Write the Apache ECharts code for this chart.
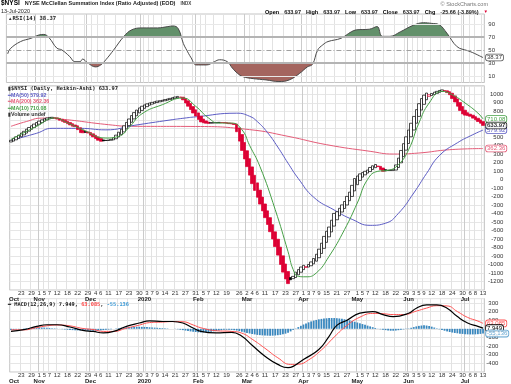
<!DOCTYPE html>
<html><head><meta charset="utf-8">
<script src="https://cdn.jsdelivr.net/npm/echarts@6/dist/echarts.min.js"></script>
<style>html,body{margin:0;padding:0;background:#fff}#c{width:511px;height:384px}</style>
</head><body><div id="c"></div>
<script>
// ---------- categories ----------
const startDate = '2019-10-17', endDate = '2020-07-13';
const holidays = ['2019-11-28','2019-12-25','2020-01-01','2020-01-20','2020-02-17','2020-04-10','2020-05-25','2020-07-03'];
function buildDates(s, e) {
  const out = []; const d = new Date(s + 'T00:00:00Z'); const end = new Date(e + 'T00:00:00Z');
  while (d <= end) {
    const wd = d.getUTCDay(); const iso = d.toISOString().slice(0, 10);
    if (wd !== 0 && wd !== 6 && !holidays.includes(iso)) out.push(iso);
    d.setUTCDate(d.getUTCDate() + 1);
  }
  return out;
}
const dates = buildDates(startDate, endDate);

const tickDates = ['2019-10-23','2019-10-29','2019-11-01','2019-11-05','2019-11-07','2019-11-12','2019-11-18','2019-11-22','2019-11-29',
 '2019-12-04','2019-12-06','2019-12-11','2019-12-17','2019-12-23','2019-12-30','2020-01-03','2020-01-07','2020-01-09','2020-01-14',
 '2020-01-21','2020-01-27','2020-01-31','2020-02-05','2020-02-07','2020-02-12','2020-02-19','2020-02-26','2020-03-02','2020-03-04',
 '2020-03-06','2020-03-11','2020-03-17','2020-03-23','2020-03-27','2020-04-01','2020-04-03','2020-04-07','2020-04-09','2020-04-15',
 '2020-04-21','2020-04-27','2020-05-01','2020-05-05','2020-05-07','2020-05-12','2020-05-18','2020-05-22','2020-05-29','2020-06-03',
 '2020-06-05','2020-06-09','2020-06-12','2020-06-18','2020-06-24','2020-06-30','2020-07-06','2020-07-08','2020-07-13'];
const monthDates = ['2019-10-17','2019-11-01','2019-12-02','2020-01-02','2020-02-03','2020-03-02','2020-04-01','2020-05-01','2020-06-01','2020-07-01'];
const monthNames = ['Oct','Nov','Dec','2020','Feb','Mar','Apr','May','Jun','Jul'];

// ---------- price (daily close) ----------
const closes = [
 460,480,500,520,545,565,590,610,630,650,668,685,700,712,722,728,730,
 722,710,695,682,670,655,640,625,620,585,550,
 548,552,545,
 520,500,480,460,448,
 452,458,462,470,
 490,520,555,590,630,670,710,750,785,815,840,860,875,888,898,
 905,912,920,925,930,938,945,952,960,968,975,
 965,935,898,860,820,780,745,705,675,
 665,660,658,662,665,668,670,668,665,660,655,652,645,
 560,450,340,240,150,50,-50,-130,-210,-290,-370,-450,-530,-615,-700,-790,-890,-1000,-1090,-1170,-1225,
 -1180,-1140,-1090,-1060,-1030,-1010,-1025,-1000,
 -970,-930,-880,-820,-750,-670,-610,-560,-480,-400,-380,-340,-300,-260,-200,-150,-70,10,40,65,80,95,110,
 140,160,175,150,115,95,100,105,108,112,
 170,250,340,420,500,580,660,740,820,890,950,990,1015,
 995,1010,1025,1035,1045,1052,
 1040,1020,995,950,910,860,810,770,755,750,742,720,700,680,660,633.97
];
const firstHaOpen = 440;

// moving averages, read at points [dayIndex, value]
const ma10 = [[0,470],[10,624],[17,722],[22,665],[28,584],[37,486],[42,506],[46,610],[51,770],[59,878],[67,956],[72,859],[77,722],
 [81,662],[86,662],[90,584],[93,400],[97,154],[103,-356],[108,-850],[110,-1060],[112,-1140],[115,-1145],[119,-1100],[124,-904],
 [130,-591],[135,-277],[139,0],[143,95],[147,107],[151,173],[155,349],[159,662],[163,898],[168,1035],[172,995],[177,898],[182,780],[184,710.08]];
const ma50 = [[0,460],[10,542],[16,600],[27,600],[37,582],[48,635],[62,698],[67,718],[72,735],[88,778],[93,742],[96,680],[100,550],
 [104,380],[108,190],[112,10],[118,-210],[126,-360],[133,-470],[140,-540],[146,-515],[151,-400],[157,-160],[162,70],[167,280],
 [174,430],[180,525],[184,579.92]];
const ma200 = [[0,624],[6,680],[12,720],[19,710],[38,643],[47,624],[72,622],[93,585],[108,506],[123,408],[140,330],[149,298],
 [159,310],[171,349],[184,362.36]];

// RSI(14)
const rsi = [[0,44],[1,52],[5,63],[9,68],[12,73],[14,74],[16,69],[19,53],[21,50],[24,40],[26,32],[28,32],[29,36],[31,30],[34,24],
 [36,27],[38,35],[41,50],[45,71],[48,81],[52,84],[58,84],[62,86],[64,87],[66,83],[68,60],[69,52],[71,38],[73,27],[77,27],[80,32],
 [82,35],[85,32],[87,22],[89,14],[91,9],[95,6],[100,4],[105,1.5],[109,4],[113,14],[116,24],[118,28],[120,50],[122,58],[124,63],
 [129,68],[133,78],[135,81],[140,82],[143,86],[145,71],[148,71],[152,78],[157,88],[161,92],[164,91],[167,89],[170,76],[174,55],
 [178,49],[180,46],[184,38.37]];

// MACD(12,26,9)
const macdLine = [[0,-30],[5,-10],[10,28],[14,47],[18,47],[23,21],[28,-18],[32,-30],[36,-48],[40,-30],[45,28],[50,67],[54,93],
 [59,85],[63,85],[67,67],[71,9],[74,-30],[80,-48],[86,-41],[90,-87],[94,-190],[99,-317],[104,-412],[108,-450],[110,-435],
 [114,-355],[120,-240],[124,-87],[127,40],[131,100],[136,181],[141,200],[145,165],[149,142],[155,181],[158,239],[162,277],
 [166,278],[170,239],[174,142],[178,67],[182,28],[184,7.949]];
const signalLine = [[0,-12],[5,-12],[10,14],[14,35],[18,44],[23,34],[28,4],[32,-8],[36,-30],[40,-30],[45,8],[50,43],[54,72],
 [59,78],[63,84],[67,82],[71,45],[74,12],[80,-22],[86,-30],[90,-50],[94,-120],[99,-225],[104,-335],[109,-412],[112,-410],
 [116,-360],[121,-245],[126,-95],[131,40],[136,135],[141,178],[145,175],[149,165],[153,165],[158,205],[162,240],[166,268],
 [170,265],[174,200],[178,132],[182,90],[184,63.085]];
const histogram = [
 -15,-12,-8,-4,0,
 4,8,10,12,14,15,16,15,14,12,10,8,5,2,
 -1,-4,-7,-10,-13,-15,-17,-18,-19,-20,-20,-21,-22,-22,-22,-20,-18,-15,-12,-8,-4,
 0,4,8,12,15,18,20,22,23,24,24,23,22,20,18,16,14,12,10,8,6,4,2,
 0,-2,-5,-10,-15,-20,-25,-30,-34,-37,-40,-42,-42,-40,-37,-33,-29,-25,-20,-16,-12,-10,-10,-12,-16,
 -20,-27,-34,-41,-48,-54,-60,-65,-70,-73,-76,-78,-79,-80,-79,-77,-74,-70,-64,-56,-45,-30,-12,
 4,20,35,50,63,75,86,95,103,110,115,119,122,124,125,125,123,120,116,111,105,98,90,82,73,64,55,46,37,28,19,10,2,
 -5,-10,-15,-20,-22,-22,-20,-16,-11,-6,-1,4,12,20,28,34,38,40,38,33,25,15,5,
 -5,-14,-22,-30,-37,-43,-48,-52,-56,-59,-62,-64,-65,-65,-64,-62,-59,-55.136
];

// ---------- layout ----------
const F = 'Liberation Sans, Arial, sans-serif';
const M = 'DejaVu Sans Mono, monospace';
const gl = 6.4, gr = 26.7;
const rsiTop = 14, rsiBot = 82.5, rsiMax = 105.4;
const rsiY = v => rsiBot - (rsiBot - rsiTop) * v / rsiMax;
const mainTop = 85.8, mainBot = 290;
const macdTop = 298.6, macdBot = 372.7;

const tickSet = new Set(tickDates.map(t => dates.indexOf(t)).filter(i => i >= 0));
const monthIdx = {};
monthDates.forEach((d, k) => { const i = dates.indexOf(d); if (i >= 0) monthIdx[i] = monthNames[k]; });

// Heikin-Ashi candles from closes (index EOD: O=H=L=C)
const candles = [];
let haOpen = firstHaOpen;
for (let j = 0; j < closes.length; j++) {
  if (j > 0) haOpen = (haOpen + closes[j - 1]) / 2;
  const c = closes[j], o = haOpen, prev = j > 0 ? closes[j - 1] : o;
  const up = c >= o, rising = c >= prev;
  const fill = up ? '#ffffff' : (rising ? '#000000' : '#dd0033');
  const border = rising ? '#000000' : '#dd0033';
  candles.push({ value: [o, c, Math.min(o, c), Math.max(o, c)],
    itemStyle: { color: fill, color0: fill, borderColor: border, borderColor0: border } });
}

function dayAxis(gi, showLabels) {
  return { type: 'category', gridIndex: gi, data: dates, boundaryGap: true,
    axisLine: { show: false }, axisTick: { show: false },
    axisLabel: { show: showLabels, interval: i => tickSet.has(i), formatter: v => String(+v.slice(8)),
      fontSize: 6, fontFamily: F, color: '#333', margin: 0.5, lineHeight: 6 },
    splitLine: { show: true, interval: i => tickSet.has(i), lineStyle: { color: '#e2e2e2', width: 1 } } };
}
function monthAxis(gi, showLabels) {
  return { type: 'category', gridIndex: gi, data: dates, boundaryGap: true, position: 'bottom', offset: 5,
    axisLine: { show: false }, axisTick: { show: false },
    axisLabel: { show: showLabels, interval: i => monthIdx[i] !== undefined,
      formatter: (v, i) => (i === 0 ? '{l|' + monthIdx[0] + '}' : '{m|' + (monthIdx[i] || '') + '}'),
      rich: { l: { fontSize: 6, fontWeight: 'bold', fontFamily: F, color: '#222', padding: [0, 0, 0, 6], lineHeight: 6 },
              m: { fontSize: 6, fontWeight: 'bold', fontFamily: F, color: '#222', lineHeight: 6 } },
      margin: 1 },
    splitLine: { show: true, interval: i => monthIdx[i] !== undefined && i > 0, lineStyle: { color: '#cbcbcb', width: 1 } } };
}
function hiddenX(gi) { return { type: 'category', gridIndex: gi, data: dates, boundaryGap: true, show: false }; }
function box(color, text, tc) {
  return { show: true, formatter: text, fontSize: 6, fontFamily: F, color: tc || color, backgroundColor: '#fff',
    borderColor: color, borderWidth: 0.8, borderRadius: 2, padding: [0, 1, 0, 1], distance: 3 };
}

const cBlue = '#5c5cc4', cPink = '#e45c78', cGreen = '#46a046', cRed = '#dd0033';
const LH = 7;

const option = {
  animation: false,
  backgroundColor: '#fff',
  title: [
    { left: 1, top: 0, padding: 0, text: '{b|$NYSI} {n|NYSE McClellan Summation Index (Ratio Adjusted) (EOD)} {s|INDX}',
      textStyle: { lineHeight: LH, rich: { b: { fontSize: 6.5, fontWeight: 'bold', fontFamily: F, color: '#000', lineHeight: LH },
        n: { fontSize: 5.5, fontFamily: F, color: '#222', lineHeight: LH }, s: { fontSize: 4.5, fontFamily: F, color: '#444', lineHeight: LH } } } },
    { left: 1, top: 8, padding: 0, text: '13-Jul-2020', textStyle: { fontSize: 5.5, lineHeight: 6, fontFamily: F, color: '#222', fontWeight: 'normal' } },
    { right: 23, top: 1, padding: 0, text: '© StockCharts.com', textStyle: { fontSize: 5.5, lineHeight: 6, fontFamily: F, color: '#777', fontWeight: 'normal' } },
    { right: 23, top: 9, padding: 0,
      text: '{b|Open} {n|633.97} {b|High} {n|633.97} {b|Low} {n|633.97} {b|Close} {n|633.97} {b|Chg} {n|-25.66 (-3.89%)} {r|▼}',
      textStyle: { lineHeight: 6, rich: { b: { fontSize: 5.5, fontWeight: 'bold', fontFamily: F, color: '#000', lineHeight: 6 },
        n: { fontSize: 5.5, fontFamily: F, color: '#222', lineHeight: 6 }, r: { fontSize: 4.5, fontFamily: F, color: cRed, lineHeight: 6 } } } },
    { left: 8, top: 15.5, padding: 0, text: '{i|▲}{t|RSI(14) 38.37}',
      textStyle: { lineHeight: 6, rich: { i: { fontSize: 4.5, color: '#333', fontFamily: F, lineHeight: 6 }, t: { fontSize: 5.6, fontFamily: M, color: '#222', lineHeight: 6 } } } },
    { left: 8, top: 85.5, padding: 0,
      text: '{k|▮}{t|$NYSI (Daily, Heikin-Ashi) 633.97}\n{b|━}{bt|MA(50) 579.92}\n{p|━}{pt|MA(200) 362.36}\n{g|━}{gt|MA(10) 710.08}\n{k|▮}{vt|Volume undef}',
      textStyle: { lineHeight: 6.5, rich: {
        k: { fontSize: 5, color: '#333', fontFamily: F, lineHeight: 6.5 },
        t: { fontSize: 5.4, fontFamily: M, color: '#222', lineHeight: 6.5 },
        b: { fontSize: 5, color: cBlue, fontFamily: F, lineHeight: 6.5 }, bt: { fontSize: 5.3, color: cBlue, fontFamily: F, lineHeight: 6.5 },
        p: { fontSize: 5, color: cPink, fontFamily: F, lineHeight: 6.5 }, pt: { fontSize: 5.3, color: cPink, fontFamily: F, lineHeight: 6.5 },
        g: { fontSize: 5, color: cGreen, fontFamily: F, lineHeight: 6.5 }, gt: { fontSize: 5.3, color: cGreen, fontFamily: F, lineHeight: 6.5 },
        vt: { fontSize: 5.3, color: '#333', fontFamily: F, lineHeight: 6.5 } } } },
    { left: 8, top: 301.5, padding: 0,
      text: '{k|━}{t| MACD(12,26,9) 7.949, }{r|63.085}{t|, }{b|-55.136}',
      textStyle: { lineHeight: 6, rich: { k: { fontSize: 5, color: '#000', fontFamily: F, lineHeight: 6 },
        t: { fontSize: 5.3, fontFamily: M, color: '#222', lineHeight: 6 }, r: { fontSize: 5.3, fontFamily: M, color: '#ff4b4b', lineHeight: 6 },
        b: { fontSize: 5.3, fontFamily: M, color: '#3d9ad6', lineHeight: 6 } } } }
  ],
  grid: [
    { left: gl, right: gr, top: rsiTop, height: rsiBot - rsiTop, show: true, borderColor: '#c4c4c4', borderWidth: 1, backgroundColor: 'transparent' },
    { left: gl, right: gr, top: rsiTop, height: rsiY(70) - rsiTop },
    { left: gl, right: gr, top: rsiY(30), height: rsiBot - rsiY(30) },
    { left: gl, right: gr, top: mainTop, height: mainBot - mainTop, show: true, borderColor: '#c4c4c4', borderWidth: 1 },
    { left: gl, right: gr, top: macdTop, height: macdBot - macdTop, show: true, borderColor: '#c4c4c4', borderWidth: 1 }
  ],
  xAxis: [
    dayAxis(0, false), monthAxis(0, false), hiddenX(1), hiddenX(2),
    dayAxis(3, true), monthAxis(3, true), dayAxis(4, true), monthAxis(4, true)
  ],
  yAxis: [
    { type: 'value', gridIndex: 0, position: 'right', min: 0, max: rsiMax, interval: 10,
      axisLine: { show: false }, axisTick: { show: false }, splitLine: { show: false },
      axisLabel: { formatter: v => (Math.abs(v % 20 - 10) < 0.01 ? String(v) : ''), fontSize: 6, fontFamily: F, color: '#333', margin: 4, align: 'left' } },
    { type: 'value', gridIndex: 1, min: 70, max: rsiMax, show: false },
    { type: 'value', gridIndex: 2, min: 0, max: 30, show: false },
    { type: 'value', gridIndex: 3, position: 'right', min: -1300, max: 1100, interval: 100,
      axisLine: { show: false }, axisTick: { show: false },
      splitLine: { show: true, lineStyle: { color: '#e6e6e6', width: 1 } },
      axisLabel: { showMinLabel: false, showMaxLabel: false, formatter: v => String(v),
        fontSize: 6, fontFamily: F, color: '#333', margin: 19, align: 'right' } },
    { type: 'value', gridIndex: 4, position: 'right', min: -500, max: 350, interval: 100,
      axisLine: { show: false }, axisTick: { show: false },
      splitLine: { show: true, lineStyle: { color: '#e6e6e6', width: 1 } },
      axisLabel: { showMinLabel: false, showMaxLabel: false, formatter: v => (v % 100 === 0 ? String(v) : ''),
        fontSize: 6, fontFamily: F, color: '#333', margin: 14, align: 'right' } }
  ],
  series: [
    // RSI fills
    { type: 'line', xAxisIndex: 2, yAxisIndex: 1, data: rsi, smooth: 0.4, symbol: 'none', z: 1, clip: true,
      lineStyle: { width: 0, opacity: 0 }, areaStyle: { color: '#62906a', opacity: 1, origin: 'start' }, silent: true },
    { type: 'line', xAxisIndex: 3, yAxisIndex: 2, data: rsi, smooth: 0.4, symbol: 'none', z: 1, clip: true,
      lineStyle: { width: 0, opacity: 0 }, areaStyle: { color: '#a4655f', opacity: 1, origin: 'end' }, silent: true },
    // RSI line
    { type: 'line', xAxisIndex: 0, yAxisIndex: 0, data: rsi, smooth: 0.4, symbol: 'none', z: 4,
      lineStyle: { color: '#4a4a4a', width: 1 },
      endLabel: box('#555', '38.37', '#333'),
      markLine: { silent: true, symbol: 'none', label: { show: false }, animation: false,
        data: [
          { yAxis: 70, lineStyle: { color: '#b4b4b4', width: 2, type: 'solid' } },
          { yAxis: 30, lineStyle: { color: '#b4b4b4', width: 2, type: 'solid' } },
          { yAxis: 50, lineStyle: { color: '#a0a0a0', width: 1, type: [5, 2, 1, 2] } },
          { yAxis: 90, lineStyle: { color: '#e8e8e8', width: 1, type: 'solid' } },
          { yAxis: 10, lineStyle: { color: '#e8e8e8', width: 1, type: 'solid' } }
        ] } },
    // main price panel
    { type: 'line', xAxisIndex: 4, yAxisIndex: 3, data: ma200, smooth: true, symbol: 'none', z: 3,
      lineStyle: { color: cPink, width: 1 }, endLabel: box(cPink, '362.36') },
    { type: 'line', xAxisIndex: 4, yAxisIndex: 3, data: ma50, smooth: true, symbol: 'none', z: 3,
      lineStyle: { color: cBlue, width: 1 }, endLabel: box(cBlue, '579.92') },
    { type: 'candlestick', xAxisIndex: 4, yAxisIndex: 3, data: candles, barWidth: 3, z: 4,
      itemStyle: { borderWidth: 0.7 } },
    { type: 'line', xAxisIndex: 4, yAxisIndex: 3, data: ma10, smooth: true, symbol: 'none', z: 5,
      lineStyle: { color: cGreen, width: 1 }, endLabel: box(cGreen, '710.08') },
    { type: 'scatter', xAxisIndex: 4, yAxisIndex: 3, data: [[closes.length - 1, closes[closes.length - 1]]], symbolSize: 0, z: 7,
      label: Object.assign(box('#000', '633.97', '#000'), { position: 'right', fontWeight: 'bold' }) },
    // MACD panel
    { type: 'bar', xAxisIndex: 6, yAxisIndex: 4, data: histogram, barWidth: 1.8, z: 2,
      itemStyle: { color: '#3a88bf' } },
    { type: 'line', xAxisIndex: 6, yAxisIndex: 4, data: signalLine, smooth: true, symbol: 'none', z: 4,
      lineStyle: { color: '#ff5252', width: 1 }, endLabel: box('#ff5252', '63.085') },
    { type: 'line', xAxisIndex: 6, yAxisIndex: 4, data: macdLine, smooth: true, symbol: 'none', z: 5,
      lineStyle: { color: '#000', width: 1.2 }, endLabel: box('#000', '7.949', '#000') },
    { type: 'scatter', xAxisIndex: 6, yAxisIndex: 4, data: [[histogram.length - 1, histogram[histogram.length - 1]]], symbolSize: 0, z: 6,
      label: Object.assign(box('#3f8fc4', '-55.136', '#3f8fc4'), { position: 'right' }) }
  ]
};
const chart = echarts.init(document.getElementById('c'), null, { renderer: 'canvas' });
chart.setOption(option);
</script></body></html>
